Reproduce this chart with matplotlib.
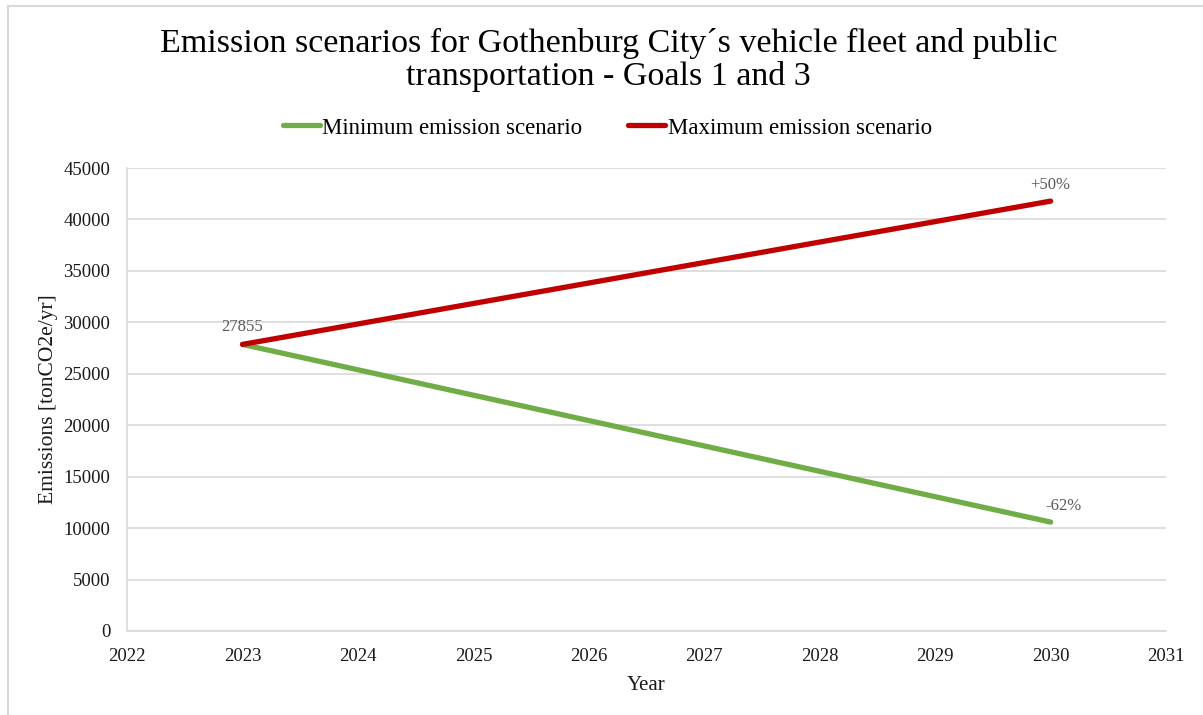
import matplotlib
matplotlib.use("Agg")
import matplotlib.pyplot as plt
from matplotlib.lines import Line2D

plt.rcParams['font.family'] = ['Liberation Serif', 'DejaVu Serif']

# Scenario data (tonCO2e/yr)
years = [2023, 2030]
min_scenario = [27855, 10585]
max_scenario = [27855, 41783]
start_label = "27855"
max_label = "+50%"
min_label = "-62%"
x_ticks = [2022, 2023, 2024, 2025, 2026, 2027, 2028, 2029, 2030, 2031]
y_ticks = [0, 5000, 10000, 15000, 20000, 25000, 30000, 35000, 40000, 45000]

green = "#70ad47"
red = "#c00000"
grid_c = "#d9d9d9"
label_c = "#595959"

fig = plt.figure(figsize=(12.03, 7.15), dpi=100)
ax = fig.add_axes([0.1056, 0.1175, 0.8637, 0.6475])

ax.plot(years, min_scenario, color=green, lw=3.8, solid_capstyle="round",
        label="Minimum emission scenario", zorder=3)
ax.plot(years, max_scenario, color=red, lw=3.8, solid_capstyle="round",
        label="Maximum emission scenario", zorder=3)

ax.set_xlim(x_ticks[0], x_ticks[-1])
ax.set_ylim(y_ticks[0], y_ticks[-1])
ax.set_xticks(x_ticks)
ax.set_yticks(y_ticks)
ax.tick_params(length=0, labelsize=13.5, colors="#1a1a1a")
ax.tick_params(axis="x", pad=12)
ax.tick_params(axis="y", pad=12)
ax.grid(axis="y", color=grid_c, lw=1.2)
ax.set_axisbelow(True)
for s in ["top", "right"]:
    ax.spines[s].set_visible(False)
for s in ["left", "bottom"]:
    ax.spines[s].set_color(grid_c)
    ax.spines[s].set_linewidth(1.2)

ax.set_xlabel("Year", fontsize=15, color="#1a1a1a", labelpad=8)
ax.set_ylabel("Emissions [tonCO2e/yr]", fontsize=15.5, color="#1a1a1a", labelpad=4)

# Value labels
ax.annotate(start_label, (years[0], min_scenario[0]), xytext=(0, 7),
            textcoords="offset points", ha="center", va="bottom",
            fontsize=12, color=label_c)
ax.annotate(max_label, (years[1], max_scenario[1]), xytext=(0, 6),
            textcoords="offset points", ha="center", va="bottom",
            fontsize=12, color=label_c)
ax.annotate(min_label, (years[1], min_scenario[1]), xytext=(9, 6),
            textcoords="offset points", ha="center", va="bottom",
            fontsize=12, color=label_c)

fig.text(0.506, 0.916, "Emission scenarios for Gothenburg City\u00b4s vehicle fleet and public\ntransportation - Goals 1 and 3",
         ha="center", va="center", fontsize=24.5, color="#000000", linespacing=1.1)

fig.legend(handles=[Line2D([], [], color=green, lw=3.8, solid_capstyle="round"),
                    Line2D([], [], color=red, lw=3.8, solid_capstyle="round")],
           labels=["Minimum emission scenario", "Maximum emission scenario"],
           loc="center", bbox_to_anchor=(0.505, 0.821), ncol=2, frameon=False,
           fontsize=16.5, handlelength=1.6, handletextpad=0.12, columnspacing=2.0)

# Chart frame lines
fig.add_artist(Line2D([0.0066, 1.0], [0.992, 0.992], color="#d9d9d9", lw=1.5))
fig.add_artist(Line2D([0.0066, 0.0066], [0.0, 0.992], color="#d9d9d9", lw=1.5))

fig.savefig("out.png", dpi=100, facecolor="white")
